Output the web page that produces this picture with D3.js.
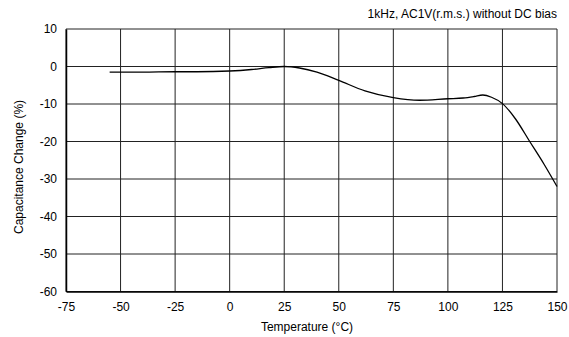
<!DOCTYPE html>
<html>
<head>
<meta charset="utf-8">
<script src="https://cdn.jsdelivr.net/npm/d3@7"></script>
<style>
  body { margin: 0; background: #fff; }
  svg text { font-family: "Liberation Sans", Arial, sans-serif; fill: #000; }
</style>
</head>
<body>
<svg id="chart" width="569" height="337"></svg>
<script>
// temperature (°C) vs capacitance change (%)
const temps = [-55, -40, -25, -15, 0, 10, 18, 25, 32, 40, 50, 62, 75, 87, 100, 107, 112, 116, 120, 125, 131, 137.5, 144, 150];
const capChange = [-1.5, -1.5, -1.4, -1.4, -1.2, -0.8, -0.3, 0, -0.4, -1.5, -3.7, -6.5, -8.3, -9.0, -8.6, -8.4, -8.0, -7.6, -8.2, -9.9, -14, -20, -26, -32];
const xTicks = [-75, -50, -25, 0, 25, 50, 75, 100, 125, 150];
const yTicks = [10, 0, -10, -20, -30, -40, -50, -60];

const margin = { top: 29, right: 12, bottom: 45.5, left: 66 };
const width = 569 - margin.left - margin.right;
const height = 337 - margin.top - margin.bottom;

const svg = d3.select("#chart");
const g = svg.append("g").attr("transform", `translate(${margin.left},${margin.top})`);

const x = d3.scaleLinear().domain([-75, 150]).range([0, width]);
const y = d3.scaleLinear().domain([-60, 10]).range([height, 0]);

// grid
g.append("g")
  .selectAll("line")
  .data(xTicks)
  .enter().append("line")
  .attr("x1", d => x(d)).attr("x2", d => x(d))
  .attr("y1", 0).attr("y2", height)
  .attr("stroke", "#222").attr("stroke-width", 1);

g.append("g")
  .selectAll("line")
  .data(yTicks)
  .enter().append("line")
  .attr("x1", 0).attr("x2", width)
  .attr("y1", d => y(d)).attr("y2", d => y(d))
  .attr("stroke", "#222").attr("stroke-width", 1);

// axes (labels only), plain hyphen minus like the original
const fmt = d => String(d);

const xAxis = g.append("g")
  .attr("transform", `translate(0,${height})`)
  .call(d3.axisBottom(x).tickValues(xTicks).tickFormat(fmt).tickSize(0).tickPadding(11));
xAxis.select(".domain").attr("stroke", "#000").attr("stroke-width", 1.5);
xAxis.selectAll("text").attr("font-size", 12);

const yAxis = g.append("g")
  .call(d3.axisLeft(y).tickValues(yTicks).tickFormat(fmt).tickSize(0).tickPadding(9));
yAxis.select(".domain").attr("stroke", "#000").attr("stroke-width", 1.5);
yAxis.selectAll("text").attr("font-size", 12);

// curve
const line = d3.line()
  .x((d, i) => x(temps[i]))
  .y(d => y(d))
  .curve(d3.curveMonotoneX);

g.append("path")
  .datum(capChange)
  .attr("fill", "none")
  .attr("stroke", "#000")
  .attr("stroke-width", 1.3)
  .attr("d", line);

// titles
svg.append("text")
  .attr("x", 307)
  .attr("y", 331)
  .attr("text-anchor", "middle")
  .attr("font-size", 12)
  .text("Temperature (°C)");

svg.append("text")
  .attr("transform", `translate(23,167) rotate(-90)`)
  .attr("text-anchor", "middle")
  .attr("font-size", 12)
  .text("Capacitance Change (%)");

svg.append("text")
  .attr("x", 557)
  .attr("y", 18)
  .attr("text-anchor", "end")
  .attr("font-size", 12)
  .text("1kHz, AC1V(r.m.s.) without DC bias");
</script>
</body>
</html>
